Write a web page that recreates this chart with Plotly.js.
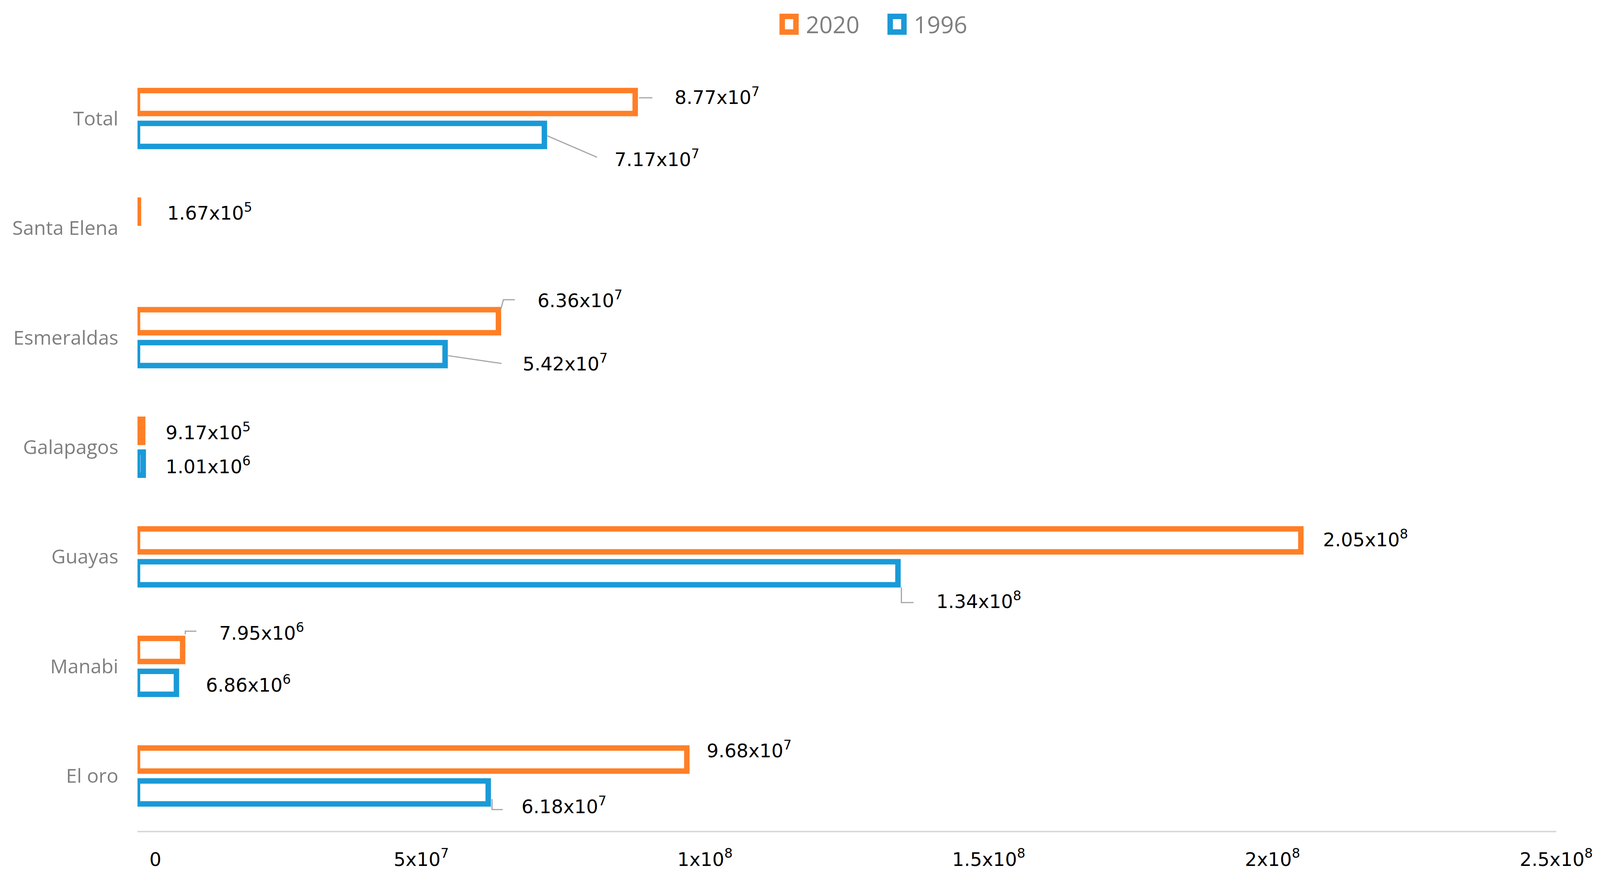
<!DOCTYPE html>
<html><head><meta charset="utf-8">
<script src="https://cdn.plot.ly/plotly-3.0.1.min.js"></script>
<style>html,body{margin:0;padding:0;background:#fff;overflow:hidden;}</style>
</head><body><div id="chart"></div>
<script>
// ---------- data ----------
const categories = ['Total', 'Santa Elena', 'Esmeraldas', 'Galapagos', 'Guayas', 'Manabi', 'El oro'];
const values2020 = [8.77e7, 1.67e5, 6.36e7, 9.17e5, 2.05e8, 7.95e6, 9.68e7];
const values1996 = [7.17e7, null, 5.42e7, 1.01e6, 1.34e8, 6.86e6, 6.18e7];
const seriesNames = ['2020', '1996'];
const tickValues = [0, 5e7, 1e8, 1.5e8, 2e8, 2.5e8];
const tickLabels = ['\u00a0\u00a0\u00a0\u00a0\u00a0\u00a00', '5x10<sup>7</sup>', '1x10<sup>8</sup>', '1.5x10<sup>8</sup>', '2x10<sup>8</sup>', '2.5x10<sup>8</sup>'];

// ---------- style / label placement (reference pixels, relative to bar end) ----------
const colors = ['#FF7F27', '#1A9AD7'];
const place2020 = [
  {dx: 101, dy: -15, leader: [[10, -11], [45, -11]]},
  {dx: 73, dy: 0},
  {dx: 100, dy: -56, leader: [[6, -30], [13, -55], [43, -55]]},
  {dx: 58, dy: 2},
  {dx: 56, dy: -5},
  {dx: 94, dy: -46, leader: [[7, -40], [7, -48], [36, -48]]},
  {dx: 50, dy: -26}
];
const place1996 = [
  {dx: 182, dy: 60, leader: [[7, 2], [138, 57]]},
  null,
  {dx: 201, dy: 22, leader: [[8, 4], [148, 24]]},
  {dx: 57, dy: 4},
  {dx: 99, dy: 69, leader: [[9, 36], [9, 75], [41, 75]]},
  {dx: 75, dy: 3},
  {dx: 85, dy: 33, leader: [[10, 17], [10, 44], [38, 44]]}
];

// reference frame is 4195 x 2275; fit it to the real viewport
const REF_W = 4195, REF_H = 2275;
const W = window.innerWidth || REF_W, H = window.innerHeight || REF_H;
const sx = W / REF_W, sy = H / REF_H;
document.getElementById('chart').style.width = W + 'px';
document.getElementById('chart').style.height = H + 'px';

const margin = {l: 361 * sx, r: 115 * sx, t: 163 * sy, b: 149 * sy, pad: 0};
const bargap = 0.40, bargroupgap = 0.30;
const slotOffset = (1 - bargap) / 4;

function sci(v) {
  const e = Math.floor(Math.log10(v));
  const m = (v / Math.pow(10, e)).toFixed(2);
  return m + 'x10<sup>' + e + '</sup>';
}

const traces = [values2020, values1996].map((vals, k) => ({
  type: 'bar',
  orientation: 'h',
  name: seriesNames[k],
  y: categories,
  x: vals,
  marker: {color: '#ffffff', line: {color: colors[k], width: 14}},
  showlegend: false,
  hoverinfo: 'x+y'
}));

const annotations = [];
const shapes = [];
[[values2020, place2020, -1], [values1996, place1996, 1]].forEach(([vals, place, side]) => {
  vals.forEach((v, i) => {
    if (v === null || !place[i]) return;
    const p = place[i];
    const yPos = i + side * slotOffset;
    annotations.push({
      xref: 'x', yref: 'y', x: v, y: yPos,
      xanchor: 'left', yanchor: 'middle',
      xshift: p.dx * sx, yshift: -p.dy * sy,
      text: sci(v), showarrow: false,
      font: {family: 'DejaVu Sans', size: 48, color: '#000000'}
    });
    if (p.leader) {
      const path = p.leader.map((pt, j) => (j ? 'L' : 'M') + (pt[0] * sx).toFixed(1) + ',' + (-pt[1] * sy).toFixed(1)).join(' ');
      shapes.push({
        type: 'path', xref: 'x', yref: 'y',
        xsizemode: 'pixel', ysizemode: 'pixel',
        xanchor: v, yanchor: yPos, path: path,
        line: {color: '#A6A6A6', width: 3}
      });
    }
  });
});

// ---------- legend (large hollow squares, as in the reference) ----------
const plotW = W - margin.l - margin.r, plotH = H - margin.t - margin.b;
const px2x = px => (px * sx - margin.l) / plotW;
const px2y = py => 1 - (py * sy - margin.t) / plotH;
const legendItems = [{cx: 2069, tx: 2111}, {cx: 2352, tx: 2394}];
legendItems.forEach((it, k) => {
  shapes.push({
    type: 'rect', xref: 'paper', yref: 'paper',
    xsizemode: 'pixel', ysizemode: 'pixel',
    xanchor: px2x(it.cx), yanchor: px2y(62),
    x0: -18 * sx, x1: 18 * sx, y0: -20, y1: 20,
    fillcolor: '#ffffff', line: {color: colors[k], width: 14}
  });
  annotations.push({
    xref: 'paper', yref: 'paper', x: px2x(it.tx), y: px2y(62),
    xanchor: 'left', yanchor: 'middle', showarrow: false,
    text: seriesNames[k],
    font: {family: 'Open Sans', size: 60, color: '#7F7F7F'}
  });
});

const layout = {
  width: W, height: H,
  margin: margin,
  paper_bgcolor: '#ffffff', plot_bgcolor: '#ffffff',
  barmode: 'group', bargap: bargap, bargroupgap: bargroupgap,
  showlegend: false,
  xaxis: {
    range: [0, 2.5e8], tickmode: 'array', tickvals: tickValues, ticktext: tickLabels,
    showgrid: false, zeroline: false, showline: true, linecolor: '#D9D9D9', linewidth: 4,
    ticks: '', ticklen: 0, ticklabelstandoff: 28,
    tickfont: {family: 'DejaVu Sans', size: 48, color: '#000000'}, fixedrange: true
  },
  yaxis: {
    type: 'category', categoryorder: 'array', categoryarray: categories, autorange: 'reversed',
    showgrid: false, zeroline: false, showline: false, ticks: '', ticklen: 0, ticklabelstandoff: 48,
    tickfont: {family: 'Open Sans', size: 50, color: '#7F7F7F'}, fixedrange: true
  },
  annotations: annotations,
  shapes: shapes
};

Plotly.newPlot('chart', traces, layout, {displayModeBar: false, staticPlot: true});
</script>
</body></html>
